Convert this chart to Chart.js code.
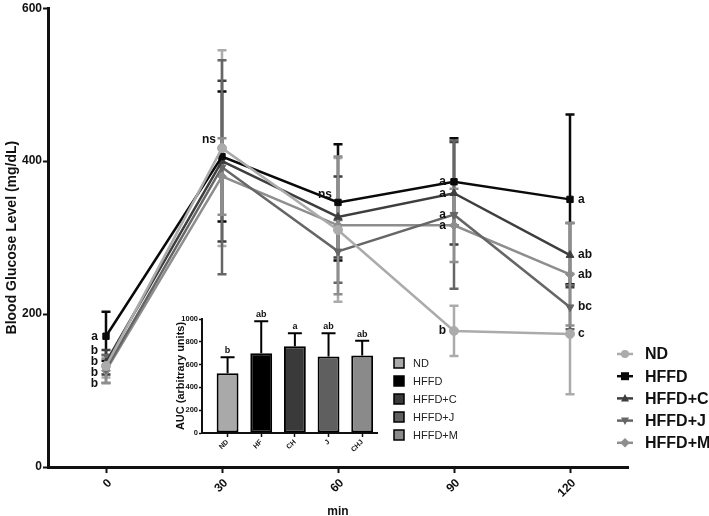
<!DOCTYPE html>
<html><head><meta charset="utf-8">
<script src="https://cdn.jsdelivr.net/npm/chart.js@4.4.0/dist/chart.umd.min.js"></script>
<style>
html,body{margin:0;padding:0;background:#fff;}
#wrap{position:relative;width:709px;height:516px;overflow:hidden;}
#main{position:absolute;left:0;top:0;}
#inset{position:absolute;left:150px;top:300px;}
</style></head><body>
<div id="wrap"><canvas id="main" width="709" height="516"></canvas><canvas id="inset" width="345" height="165"></canvas></div>
<script>
const FONT = '"Liberation Sans", Arial, Helvetica, sans-serif';

// ---- main chart data ----
const timePoints = [0, 30, 60, 90, 120];
const timeTicks = [0, 30, 60, 90, 120];
const glucoseTicks = [0, 200, 400, 600];
const seriesNames = ['ND', 'HFFD', 'HFFD+C', 'HFFD+J', 'HFFD+M'];
const ndMean    = [132, 417, 310, 178, 174];
const ndSD      = [15, 128, 94, 33, 79];
const hffdMean  = [171, 406, 346, 373, 350];
const hffdSD    = [32, 85, 76, 57, 111];
const hffdCMean = [137, 400, 327, 358, 277];
const hffdCSD   = [16, 105, 53, 67, 42];
const hffdJMean = [128, 392, 282, 330, 209];
const hffdJSD   = [18, 140, 41, 97, 29];
const hffdMMean = [126, 380, 316, 316, 252];
const hffdMSD   = [16, 50, 90, 48, 67];
const ndLetters    = ['b', '', '', 'b', 'c'];
const hffdLetters  = ['a', '', '', 'a', 'a'];
const hffdCLetters = ['b', '', '', 'a', 'ab'];
const hffdJLetters = ['b', '', '', 'a', 'bc'];
const hffdMLetters = ['b', '', '', 'a', 'ab'];
const timeNotes    = ['', 'ns', 'ns', '', ''];

// ---- inset data ----
const aucLabels  = ['ND', 'HF', 'CH', 'J', 'CHJ'];
const aucMean    = [525, 700, 760, 670, 680];
const aucSD      = [140, 280, 115, 205, 130];
const aucLetters = ['b', 'ab', 'a', 'ab', 'ab'];
const aucTicks   = [0, 200, 400, 600, 800, 1000];

// ---- styles ----
const seriesColors = ['#ababab', '#0a0a0a', '#3e3e3e', '#666666', '#8e8e8e'];
const barColors    = ['#a9a9a9', '#000000', '#3a3a3a', '#5f5f5f', '#8a8a8a'];
const seriesStyles = [
  {pointStyle: 'circle', rotation: 0},
  {pointStyle: 'rect', rotation: 0},
  {pointStyle: 'triangle', rotation: 0},
  {pointStyle: 'triangle', rotation: 180},
  {pointStyle: 'rectRot', rotation: 0}
];

const means = [ndMean, hffdMean, hffdCMean, hffdJMean, hffdMMean];
const sds = [ndSD, hffdSD, hffdCSD, hffdJSD, hffdMSD];
const letters = [ndLetters, hffdLetters, hffdCLetters, hffdJLetters, hffdMLetters];

const datasets = seriesNames.map((name, k) => ({
  label: name,
  data: timePoints.map((t, i) => ({x: t, y: means[k][i]})),
  sd: sds[k],
  letters: letters[k],
  borderColor: seriesColors[k],
  backgroundColor: seriesColors[k],
  pointStyle: seriesStyles[k].pointStyle,
  pointRotation: seriesStyles[k].rotation,
  pointRadius: 4.5,
  pointHoverRadius: 4.5,
  pointBorderWidth: 1,
  borderWidth: 2.5,
  tension: 0,
  fill: false
}));

function drawMarker(ctx, style, rot, x, y, r) {
  ctx.save();
  ctx.translate(x, y);
  ctx.rotate(rot * Math.PI / 180);
  ctx.beginPath();
  if (style === 'circle') { ctx.arc(0, 0, r, 0, Math.PI * 2); }
  else if (style === 'rect') { ctx.rect(-r, -r, 2 * r, 2 * r); }
  else if (style === 'triangle') { ctx.moveTo(0, -r * 1.1); ctx.lineTo(r, r * 0.8); ctx.lineTo(-r, r * 0.8); ctx.closePath(); }
  else if (style === 'rectRot') { ctx.moveTo(0, -r * 1.2); ctx.lineTo(r * 1.2, 0); ctx.lineTo(0, r * 1.2); ctx.lineTo(-r * 1.2, 0); ctx.closePath(); }
  ctx.fill();
  ctx.restore();
}

function spread(items, gap) {
  items.sort((a, b) => a.y - b.y);
  let cl = items.map(it => ({list: [it], c: it.y}));
  let changed = true;
  while (changed) {
    changed = false;
    for (let k = 0; k < cl.length - 1; k++) {
      const A = cl[k], B = cl[k + 1];
      const aBottom = A.c + (A.list.length - 1) * gap / 2;
      const bTop = B.c - (B.list.length - 1) * gap / 2;
      if (bTop - aBottom < gap) {
        const list = A.list.concat(B.list);
        const c = list.reduce((s, it) => s + it.y, 0) / list.length;
        cl.splice(k, 2, {list, c});
        changed = true;
        break;
      }
    }
  }
  cl.forEach(C => C.list.forEach((it, j) => { it.py = C.c - (C.list.length - 1) * gap / 2 + j * gap; }));
}

const errorBarPlugin = {
  id: 'errorBars',
  beforeDatasetsDraw(chart) {
    const {ctx, scales: {x, y}} = chart;
    ctx.save();
    ctx.lineWidth = 2.5;
    chart.data.datasets.forEach(ds => {
      ctx.strokeStyle = ds.borderColor;
      ds.data.forEach((p, i) => {
        const px = x.getPixelForValue(p.x);
        const top = y.getPixelForValue(p.y + ds.sd[i]);
        const bot = y.getPixelForValue(p.y - ds.sd[i]);
        ctx.beginPath();
        ctx.moveTo(px, top); ctx.lineTo(px, bot);
        ctx.moveTo(px - 4.5, top); ctx.lineTo(px + 4.5, top);
        ctx.moveTo(px - 4.5, bot); ctx.lineTo(px + 4.5, bot);
        ctx.stroke();
      });
    });
    ctx.restore();
  }
};

const letterPlugin = {
  id: 'letters',
  afterDatasetsDraw(chart) {
    const {ctx, scales: {x, y}} = chart;
    const dsets = chart.data.datasets;
    ctx.save();
    ctx.fillStyle = '#111';
    ctx.font = 'bold 12px ' + FONT;
    ctx.textBaseline = 'middle';
    timePoints.forEach((t, i) => {
      const px = x.getPixelForValue(t);
      const last = i === timePoints.length - 1;
      const items = [];
      dsets.forEach(ds => {
        if (ds.letters[i]) items.push({text: ds.letters[i], y: y.getPixelForValue(ds.data[i].y)});
      });
      if (items.length) {
        spread(items, 11);
        ctx.textAlign = last ? 'left' : 'right';
        items.forEach(it => ctx.fillText(it.text, last ? px + 8 : px - 8, it.py));
      }
      if (timeNotes[i]) {
        const maxV = Math.max(...dsets.map(ds => ds.data[i].y));
        ctx.textAlign = 'right';
        ctx.fillText(timeNotes[i], px - 6, y.getPixelForValue(maxV) - 8);
      }
    });
    ctx.restore();
  }
};

const mainLegendPlugin = {
  id: 'mainLegend',
  afterDraw(chart) {
    const {ctx, chartArea} = chart;
    const x0 = chartArea.right - 11;
    const y0 = chartArea.bottom - 113;
    ctx.save();
    chart.data.datasets.forEach((ds, k) => {
      const yy = y0 + k * 22.2;
      ctx.strokeStyle = ds.borderColor;
      ctx.fillStyle = ds.borderColor;
      ctx.lineWidth = 2.5;
      ctx.beginPath(); ctx.moveTo(x0, yy); ctx.lineTo(x0 + 16, yy); ctx.stroke();
      drawMarker(ctx, ds.pointStyle, ds.pointRotation, x0 + 8, yy, 4);
      ctx.fillStyle = '#111';
      ctx.font = 'bold 16px ' + FONT;
      ctx.textAlign = 'left';
      ctx.textBaseline = 'middle';
      ctx.fillText(ds.label, x0 + 28, yy + 1);
    });
    ctx.restore();
  }
};

new Chart(document.getElementById('main'), {
  type: 'line',
  data: {datasets},
  options: {
    responsive: false,
    animation: false,
    layout: {padding: {top: 7, right: 81, left: 0, bottom: 0}},
    plugins: {legend: {display: false}, tooltip: {enabled: false}},
    scales: {
      x: {
        type: 'linear', min: -15, max: 135,
        afterBuildTicks: s => { s.ticks = timeTicks.map(v => ({value: v})); },
        afterFit: s => { s.height = 49; },
        ticks: {minRotation: 45, maxRotation: 45, color: '#111', font: {family: FONT, size: 12, weight: 'bold'}, padding: 3, labelOffset: 4},
        grid: {drawOnChartArea: false, tickLength: 6, color: '#111', tickWidth: 2},
        border: {color: '#111', width: 3},
        title: {display: true, text: 'min', color: '#111', font: {family: FONT, size: 12, weight: 'bold'}, padding: {top: 0, bottom: -3}}
      },
      y: {
        min: 0, max: 600,
        afterBuildTicks: s => { s.ticks = glucoseTicks.map(v => ({value: v})); },
        afterFit: s => { s.width = 48; },
        ticks: {color: '#111', font: {family: FONT, size: 12, weight: 'bold'}, padding: 1},
        grid: {drawOnChartArea: false, tickLength: 5, color: '#111', tickWidth: 2},
        border: {color: '#111', width: 3},
        title: {display: true, text: 'Blood Glucose Level (mg/dL)', color: '#111', font: {family: FONT, size: 14, weight: 'bold'}, padding: {top: 4, bottom: 0}}
      }
    }
  },
  plugins: [errorBarPlugin, letterPlugin, mainLegendPlugin]
});

// ---- inset ----
const insetErrorPlugin = {
  id: 'insetErr',
  afterDatasetsDraw(chart) {
    const {ctx, scales: {x, y}} = chart;
    const ds = chart.data.datasets[0];
    ctx.save();
    ctx.strokeStyle = '#000';
    ctx.lineWidth = 2;
    ctx.fillStyle = '#111';
    ctx.font = 'bold 9px ' + FONT;
    ctx.textAlign = 'center';
    ctx.textBaseline = 'bottom';
    ds.data.forEach((p, i) => {
      const px = x.getPixelForValue(p.x);
      const top = y.getPixelForValue(p.y + ds.sd[i]);
      const base = y.getPixelForValue(p.y);
      ctx.beginPath();
      ctx.moveTo(px, base); ctx.lineTo(px, top);
      ctx.moveTo(px - 7, top); ctx.lineTo(px + 7, top);
      ctx.stroke();
      ctx.fillText(ds.letters[i], px, top - 2);
    });
    ctx.restore();
  }
};

const insetLegendPlugin = {
  id: 'insetLegend',
  afterDraw(chart) {
    const {ctx, chartArea} = chart;
    const x0 = chartArea.right + 17;
    const y0 = chartArea.top + 44;
    ctx.save();
    seriesNames.forEach((name, k) => {
      const yy = y0 + k * 18;
      ctx.fillStyle = barColors[k];
      ctx.fillRect(x0, yy - 5, 10, 10);
      ctx.strokeStyle = '#000';
      ctx.lineWidth = 1.5;
      ctx.strokeRect(x0, yy - 5, 10, 10);
      ctx.fillStyle = '#222';
      ctx.font = '11px ' + FONT;
      ctx.textAlign = 'left';
      ctx.textBaseline = 'middle';
      ctx.fillText(name, x0 + 19, yy + 1);
    });
    ctx.restore();
  }
};

new Chart(document.getElementById('inset'), {
  type: 'bar',
  data: {
    datasets: [{
      data: aucMean.map((v, i) => ({x: i, y: v})),
      sd: aucSD,
      letters: aucLetters,
      backgroundColor: barColors,
      borderColor: '#000',
      borderWidth: 2,
      borderSkipped: false,
      barPercentage: 0.65,
      categoryPercentage: 1
    }]
  },
  options: {
    responsive: false,
    animation: false,
    layout: {padding: {top: 19, right: 118, left: 0, bottom: 0}},
    plugins: {legend: {display: false}, tooltip: {enabled: false}},
    scales: {
      x: {
        type: 'linear', min: -0.76, max: 4.44, offset: false,
        afterBuildTicks: s => { s.ticks = aucLabels.map((_, i) => ({value: i})); },
        afterFit: s => { s.height = 32; },
        ticks: {callback: v => aucLabels[v], minRotation: 45, maxRotation: 45, color: '#111', font: {family: FONT, size: 7, weight: 'bold'}, padding: 1},
        grid: {drawOnChartArea: false, offset: false, tickLength: 4, color: '#111', tickWidth: 1.5},
        border: {color: '#111', width: 2}
      },
      y: {
        min: 0, max: 1000,
        afterBuildTicks: s => { s.ticks = aucTicks.map(v => ({value: v})); },
        afterFit: s => { s.width = 52; },
        ticks: {callback: v => String(v), color: '#111', font: {family: FONT, size: 7.5, weight: 'bold'}, padding: 1},
        grid: {drawOnChartArea: false, tickLength: 3, color: '#111', tickWidth: 1.5},
        border: {color: '#111', width: 2},
        title: {display: true, text: 'AUC (arbitrary units)', color: '#111', font: {family: FONT, size: 11, weight: 'bold'}, padding: {top: 24, bottom: 0}}
      }
    }
  },
  plugins: [insetErrorPlugin, insetLegendPlugin]
});
</script>
</body></html>
